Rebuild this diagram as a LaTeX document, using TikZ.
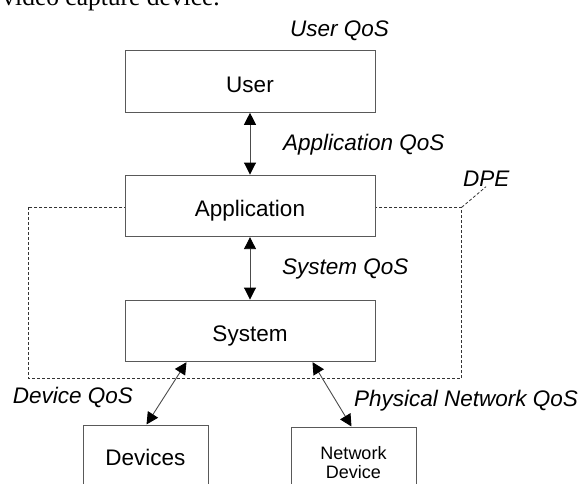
\documentclass[tikz,border=0pt]{standalone}
\usepackage{fontspec}
\setmainfont{Liberation Serif}
\setsansfont{Liberation Sans}
\usetikzlibrary{arrows.meta}
\begin{document}
\begin{tikzpicture}[x=1pt,y=-1pt,
  box/.style={draw=black!65, line width=1pt, fill=white, inner sep=0pt,
    font=\sffamily\fontsize{22.5}{27}\selectfont},
  layerbox/.style={box, minimum width=250pt, minimum height=61.6pt,
    text height=21pt, text depth=0pt},
  qos/.style={font=\sffamily\itshape\fontsize{22.5}{27}\selectfont,
    inner sep=0pt, anchor=base west},
  link/.style={draw=black!70, line width=0.9pt,
    {Triangle[length=12pt,width=12pt,color=black]}-{Triangle[length=12pt,width=12pt,color=black]}},
  dpeline/.style={draw=black!80, line width=0.8pt, dash pattern=on 3pt off 2pt}
]
\useasboundingbox (0,0) rectangle (584,483);
\clip (0,0) rectangle (584,483);

% running text above the figure
\node[font=\fontsize{25.5}{30}\selectfont, anchor=base east, inner sep=0pt]
  (caption) at (220,5) {video capture device.};

% DPE boundary (drawn first so the boxes cover it)
\coordinate (dpeNW) at (28,207.3);
\coordinate (dpeSE) at (461.7,378.3);
\coordinate (dpeNE) at (461.7,207.3);
\draw[dpeline] (dpeNW) rectangle (dpeSE);
\node[qos] (dpe) at (463,186.7) {DPE};
\draw[dpeline] (dpeNE) -- ([xshift=23pt]dpe.base west);

% layers
\node[layerbox] (user) at (250,81.5) {User};
\node[layerbox] (app) at (250,205.85) {Application};
\node[layerbox] (sys) at (250,330.85) {System};

% devices
\node[box, minimum width=125pt, minimum height=65pt] (dev) at (145.5,457.5) {Devices};
\node[box, minimum width=125pt, minimum height=72pt, align=center,
  font=\sffamily\fontsize{18}{19}\selectfont] (net) at (353.5,463) {Network\\Device};

% connections
\draw[link] (user.south) -- (app.north);
\draw[link] (app.south) -- (sys.north);
\draw[link] ([xshift=62pt]sys.south west) -- ([xshift=64pt]dev.north west);
\draw[link] ([xshift=188pt]sys.south west) -- ([xshift=61pt]net.north west);

% QoS labels
\node[qos] (userqos) at (290,36) {User QoS};
\node[qos] (appqos) at (283,150) {Application QoS};
\node[qos] (sysqos) at (282,274.3) {System QoS};
\node[qos] (devqos) at (12.7,403.3) {Device QoS};
\node[qos] (netqos) at (354,406.7) {Physical Network QoS};
\end{tikzpicture}
\end{document}
